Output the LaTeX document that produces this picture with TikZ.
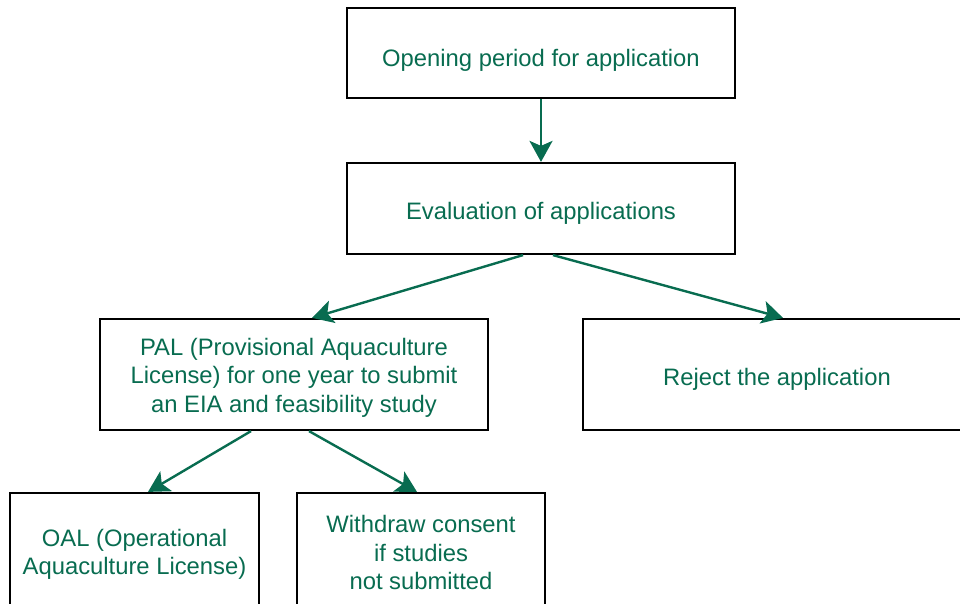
\documentclass[tikz,border=0pt]{standalone}
\usepackage{fontspec}
\setmainfont{Liberation Sans}
\usetikzlibrary{arrows.meta}
\definecolor{licgreen}{RGB}{8,108,80}
\newcommand{\lowtext}[2]{\raisebox{-#1}[\height][\depth]{#2}}
\begin{document}
\begin{tikzpicture}[x=1pt,y=-1pt,
  stagebox/.style={draw=black,line width=2.2pt,inner sep=0pt,align=center,
    text=licgreen,font=\fontsize{23.8}{28.5}\selectfont,
    minimum width=388pt,minimum height=90pt},
  flow/.style={draw=licgreen,line width=2.4pt,
    -{Stealth[length=21pt,width=23pt,inset=5pt]}}]
\useasboundingbox (0,0) rectangle (960,604);
\clip (0,0) rectangle (960,604);
\node[stagebox] (open) at (541,53) {\lowtext{7pt}{Opening period for application}};
\node[stagebox,minimum height=91pt] (eval) at (541,208.5) {\lowtext{5pt}{Evaluation of applications}};
\node[stagebox,minimum height=111pt] (pal) at (294,374.5)
  {\lowtext{3pt}{PAL (Provisional Aquaculture}\\\lowtext{3pt}{License) for one year to submit}\\
   \lowtext{3pt}{an EIA and feasibility study}};
\node[stagebox,minimum height=111pt] (reject) at (777,374.5) {\lowtext{5pt}{Reject the application}};
\node[stagebox,minimum width=249pt,minimum height=119pt] (oal) at (134.5,552.5)
  {\lowtext{2pt}{OAL (Operational}\\\lowtext{2pt}{Aquaculture License)}};
\node[stagebox,minimum width=248pt,minimum height=119pt] (withdraw) at (421,552.5)
  {Withdraw consent\\if studies\\not submitted};
\draw[flow] (open) -- (eval);
\draw[flow] ([xshift=-18pt]eval.south) -- ([xshift=18pt]pal.north);
\draw[flow] ([xshift=12pt]eval.south) -- ([xshift=6pt]reject.north);
\draw[flow] ([xshift=-43pt]pal.south) -- ([xshift=13.5pt]oal.north);
\draw[flow] ([xshift=15pt]pal.south) -- ([xshift=-4pt]withdraw.north);
\end{tikzpicture}
\end{document}
